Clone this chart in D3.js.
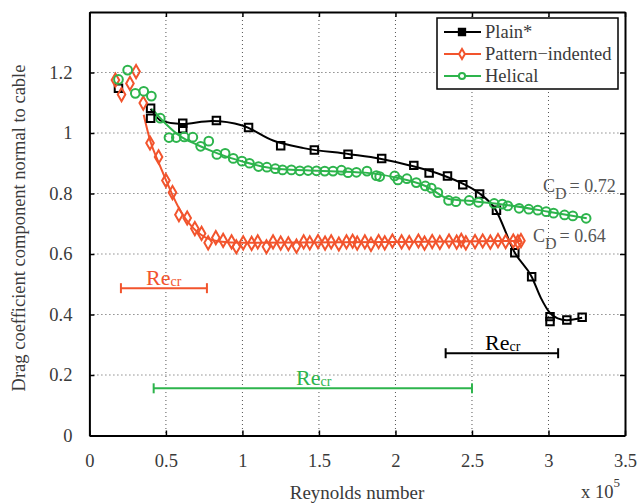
<!DOCTYPE html>
<html>
<head>
<meta charset="utf-8">
<script src="https://cdn.jsdelivr.net/npm/d3@7"></script>
<style>
  body { margin: 0; background: #fff; }
  svg text { font-family: "Liberation Serif", "Times New Roman", serif; }
</style>
</head>
<body>
<script>
// data (Reynolds number in 1e5, drag coefficient)
const xTicks = [0, 0.5, 1, 1.5, 2, 2.5, 3, 3.5];
const yTicks = [0, 0.2, 0.4, 0.6, 0.8, 1, 1.2];

const plainPts = [[0.19,1.148],[0.40,1.082],[0.40,1.049],[0.61,1.032],[0.61,1.014],[0.83,1.041],[1.04,1.018],
  [1.25,0.958],[1.47,0.944],[1.69,0.930],[1.91,0.916],[2.12,0.893],[2.22,0.868],[2.34,0.858],[2.44,0.829],
  [2.55,0.798],[2.66,0.745],[2.78,0.604],[2.89,0.525],[3.01,0.393],[3.01,0.377],[3.12,0.382],[3.22,0.391]];
const plainFit = [[0.40,1.08],[0.47,1.04],[0.60,1.03],[0.80,1.04],[1.00,1.025],[1.20,0.975],[1.40,0.950],
  [1.70,0.930],[1.90,0.915],[2.10,0.892],[2.30,0.862],[2.45,0.830],[2.55,0.800],[2.65,0.750],[2.78,0.604],
  [2.89,0.525],[2.95,0.455],[3.01,0.405],[3.06,0.387],[3.12,0.381],[3.22,0.389]];

const patternPts = [[0.17,1.175],[0.21,1.127],[0.265,1.164],[0.305,1.203],[0.352,1.099],[0.396,0.967],[0.452,0.921],
  [0.50,0.843],[0.543,0.803],[0.585,0.730],[0.639,0.719],[0.689,0.684],[0.733,0.668],[0.776,0.637],[0.826,0.654],
  [0.874,0.645],[0.929,0.640],[0.96,0.624],[1.005,0.637],[1.06,0.635],[1.10,0.640],[1.157,0.624],[1.20,0.640],
  [1.25,0.636],[1.30,0.634],[1.353,0.626],[1.40,0.640],[1.44,0.637],[1.494,0.641],[1.54,0.636],[1.58,0.640],
  [1.63,0.633],[1.68,0.640],[1.72,0.642],[1.75,0.636],[1.80,0.640],[1.84,0.632],[1.89,0.641],[1.93,0.637],
  [1.98,0.643],[2.04,0.640],[2.09,0.638],[2.15,0.643],[2.19,0.636],[2.24,0.641],[2.29,0.638],[2.35,0.643],
  [2.40,0.639],[2.43,0.645],[2.46,0.637],[2.52,0.641],[2.57,0.643],[2.62,0.639],[2.67,0.644],[2.72,0.641],
  [2.77,0.643],[2.80,0.640],[2.82,0.644]];
const patternFit = [[0.355,1.06],[0.40,0.97],[0.45,0.905],[0.50,0.845],[0.55,0.787],[0.60,0.738],[0.65,0.702],
  [0.70,0.675],[0.76,0.654],[0.85,0.641],[1.00,0.637],[2.00,0.640],[2.82,0.643]];

const helicalPts = [[0.19,1.177],[0.25,1.208],[0.30,1.131],[0.355,1.138],[0.405,1.122],[0.463,1.049],[0.52,0.985],
  [0.568,0.985],[0.62,0.987],[0.676,0.986],[0.727,0.956],[0.78,0.973],[0.833,0.929],[0.887,0.933],[0.94,0.916],
  [0.997,0.907],[1.046,0.900],[1.105,0.889],[1.16,0.887],[1.215,0.882],[1.262,0.878],[1.32,0.878],[1.375,0.875],
  [1.429,0.876],[1.484,0.875],[1.538,0.874],[1.592,0.874],[1.647,0.877],[1.69,0.869],[1.745,0.870],[1.814,0.874],
  [1.875,0.859],[1.897,0.856],[1.995,0.858],[2.016,0.845],[2.075,0.849],[2.136,0.836],[2.195,0.825],[2.234,0.818],
  [2.277,0.803],[2.347,0.777],[2.395,0.773],[2.482,0.777],[2.542,0.771],[2.645,0.767],[2.698,0.765],[2.734,0.759],
  [2.808,0.751],[2.871,0.748],[2.93,0.745],[2.985,0.740],[3.033,0.735],[3.105,0.729],[3.159,0.726],[3.246,0.718]];
const helicalFit = [[0.41,1.08],[0.50,1.03],[0.60,0.987],[0.70,0.962],[0.80,0.940],[0.90,0.921],[1.00,0.906],
  [1.20,0.883],[1.50,0.875],[1.80,0.869],[2.00,0.853],[2.20,0.824],[2.35,0.782],[2.50,0.775],[2.70,0.764],
  [3.00,0.740],[3.25,0.718]];

// critical Reynolds ranges [start, end, Cd level]
const critPattern = [0.206, 0.768, 0.487];
const critHelical = [0.42, 2.50, 0.156];
const critPlain = [2.328, 3.063, 0.272];

const width = 637, height = 503;
const plotLeft = 89.4, plotRight = 625, plotTop = 12, plotBottom = 435.5;
const black = "#000", orange = "#f2542d", green = "#2db44c", grey = "#3a3a3a";
const serif = "Liberation Serif, Times New Roman, serif";

const svg = d3.select("body").append("svg")
  .attr("width", width).attr("height", height)
  .attr("font-family", serif);

const x = d3.scaleLinear().domain([0, 3.5]).range([plotLeft, plotRight]);
const y = d3.scaleLinear().domain([0, 1.4]).range([plotBottom, plotTop]);

// grid
svg.append("g").selectAll("line").data(xTicks.slice(1, -1)).join("line")
  .attr("x1", d => x(d)).attr("x2", d => x(d)).attr("y1", plotTop).attr("y2", plotBottom)
  .attr("stroke", "#555").attr("stroke-width", 1).attr("stroke-dasharray", "1,3");
svg.append("g").selectAll("line").data(yTicks.slice(1)).join("line")
  .attr("x1", plotLeft).attr("x2", plotRight).attr("y1", d => y(d)).attr("y2", d => y(d))
  .attr("stroke", "#555").attr("stroke-width", 1).attr("stroke-dasharray", "1,3");

// axes with inward ticks
svg.append("g").attr("transform", `translate(0,${plotBottom})`)
  .call(d3.axisBottom(x).tickValues(xTicks).tickFormat(d3.format("")).tickSizeInner(-5).tickSizeOuter(0).tickPadding(18));
svg.append("g").attr("transform", `translate(${plotLeft},0)`)
  .call(d3.axisLeft(y).tickValues(yTicks).tickFormat(d3.format("")).tickSizeInner(-5).tickSizeOuter(0).tickPadding(17));
svg.append("g").attr("transform", `translate(0,${plotTop})`)
  .call(d3.axisTop(x).tickValues(xTicks).tickFormat("").tickSizeInner(-5).tickSizeOuter(0));
svg.append("g").attr("transform", `translate(${plotRight},0)`)
  .call(d3.axisRight(y).tickValues(yTicks).tickFormat("").tickSizeInner(-5).tickSizeOuter(0));
svg.selectAll("g").attr("font-family", serif);
svg.selectAll(".domain").attr("stroke", "#000").attr("stroke-width", 2);
svg.selectAll(".tick line").attr("stroke", "#000").attr("stroke-width", 1.5);
svg.selectAll(".tick text").attr("font-size", 18.5).attr("fill", grey);

// fitted lines
const line = d3.line().x(d => x(d[0])).y(d => y(d[1])).curve(d3.curveMonotoneX);
const series = [
  { fit: plainFit, pts: plainPts, color: black, sym: d3.symbolSquare, size: 56 },
  { fit: patternFit, pts: patternPts, color: orange, sym: d3.symbolDiamond, size: 50 },
  { fit: helicalFit, pts: helicalPts, color: green, sym: d3.symbolCircle, size: 60 }
];
series.forEach(s => {
  svg.append("path").datum(s.fit).attr("d", line)
    .attr("fill", "none").attr("stroke", s.color).attr("stroke-width", 2);
});
series.forEach(s => {
  svg.append("g").selectAll("path").data(s.pts).join("path")
    .attr("transform", d => `translate(${x(d[0])},${y(d[1])})`)
    .attr("d", d3.symbol().type(s.sym).size(s.size))
    .attr("fill", "none").attr("stroke", s.color).attr("stroke-width", 2);
});

// Re_cr ranges
function crit(r, color, tx, ty) {
  const g = svg.append("g").attr("stroke", color).attr("stroke-width", 2);
  g.append("line").attr("x1", x(r[0])).attr("x2", x(r[1])).attr("y1", y(r[2])).attr("y2", y(r[2]));
  [r[0], r[1]].forEach(v => g.append("line").attr("x1", x(v)).attr("x2", x(v))
    .attr("y1", y(r[2]) - 5).attr("y2", y(r[2]) + 5));
  const t = svg.append("text").attr("x", tx).attr("y", ty).attr("fill", color).attr("font-size", 22);
  t.append("tspan").text("Re");
  t.append("tspan").attr("font-size", 14).attr("dy", 1).text("cr");
}
crit(critPattern, orange, 146, 285);
crit(critHelical, green, 296, 385);
crit(critPlain, black, 485, 350);

// C_D labels
function cd(tx, ty, val) {
  const t = svg.append("text").attr("x", tx).attr("y", ty).attr("fill", "#555").attr("font-size", 18);
  t.append("tspan").text("C");
  t.append("tspan").attr("font-size", 16).attr("dy", 7).text("D");
  t.append("tspan").attr("dy", -7).attr("dx", 3).text("= " + val);
}
cd(543, 192, "0.72");
cd(533, 242, "0.64");

// axis labels
svg.append("text").attr("x", 357).attr("y", 499).attr("text-anchor", "middle")
  .attr("font-size", 19).attr("fill", grey).text("Reynolds number");
const ex = svg.append("text").attr("x", 581).attr("y", 498).attr("font-size", 18.5).attr("fill", grey);
ex.append("tspan").text("x 10");
ex.append("tspan").attr("font-size", 13).attr("dy", -11).text("5");
svg.append("text").attr("transform", "translate(25,228) rotate(-90)").attr("text-anchor", "middle")
  .attr("font-size", 18.5).attr("fill", grey).text("Drag coefficient component normal to cable");

// legend
const lg = svg.append("g");
lg.append("rect").attr("x", 437).attr("y", 18).attr("width", 181).attr("height", 71)
  .attr("fill", "#fff").attr("stroke", "#000").attr("stroke-width", 1.5);
const legendNames = ["Plain*", "Pattern\u2212indented", "Helical"];
const legendY = [32, 54, 76];
series.forEach((s, i) => {
  const yy = legendY[i];
  lg.append("line").attr("x1", 444).attr("x2", 481).attr("y1", yy).attr("y2", yy)
    .attr("stroke", s.color).attr("stroke-width", 2);
  lg.append("path").attr("transform", `translate(462,${yy})`)
    .attr("d", d3.symbol().type(s.sym).size(i === 0 ? 40 : 30))
    .attr("fill", i === 0 ? "#000" : "#fff").attr("stroke", s.color).attr("stroke-width", 2);
  lg.append("text").attr("x", 485).attr("y", yy + 6).attr("font-size", 18.5).attr("fill", grey)
    .text(legendNames[i]);
});
</script>
</body>
</html>
